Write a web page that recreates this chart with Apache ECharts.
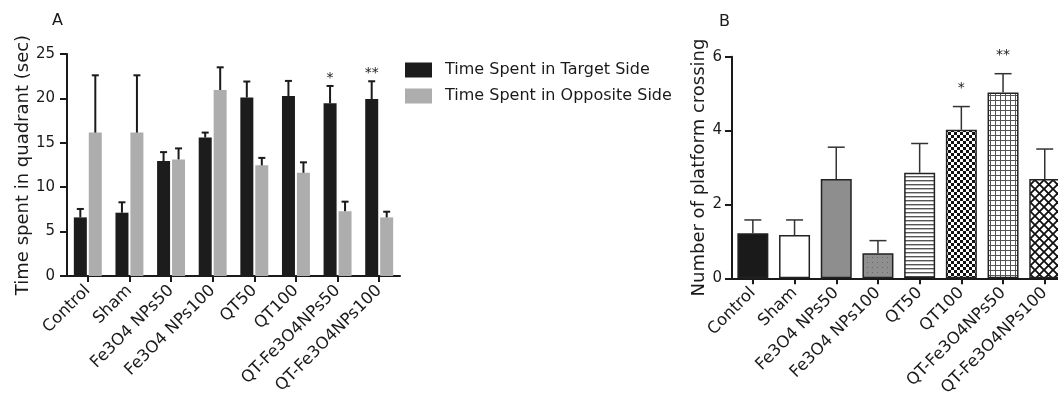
<!DOCTYPE html>
<html>
<head>
<meta charset="utf-8">
<script src="https://cdn.jsdelivr.net/npm/echarts@6/dist/echarts.min.js"></script>
<style>
html, body { margin: 0; padding: 0; background: #fff; }
#chart { width: 1058px; height: 401px; }
</style>
</head>
<body>
<div id="chart"></div>
<script>
var groups = ['Control', 'Sham', 'Fe3O4 NPs50', 'Fe3O4 NPs100', 'QT50', 'QT100', 'QT-Fe3O4NPs50', 'QT-Fe3O4NPs100'];
// panel A
var targetTime = [6.6, 7.13, 12.95, 15.6, 20.1, 20.27, 19.45, 19.93];
var targetErr = [0.95, 1.17, 1.0, 0.55, 1.8, 1.7, 1.95, 2.0];
var oppositeTime = [16.15, 16.15, 13.13, 20.95, 12.46, 11.63, 7.3, 6.6];
var oppositeErr = [6.45, 6.45, 1.24, 2.55, 0.84, 1.17, 1.07, 0.64];
var targetSig = ['', '', '', '', '', '', '*', '**'];
var noSig = ['', '', '', '', '', '', '', ''];
var ticksA = [0, 5, 10, 15, 20, 25];
// panel B
var crossings = [1.22, 1.17, 2.69, 0.68, 2.86, 4.02, 5.03, 2.69];
var crossErr = [0.36, 0.41, 0.86, 0.34, 0.79, 0.63, 0.51, 0.81];
var crossSig = ['', '', '', '', '', '*', '**', ''];
var ticksB = [0, 2, 4, 6];

var FONT = 'DejaVu Sans';
var INK = '#1a1a1a';

// tile patterns for panel B
function tile(w, h, draw) {
	var c = document.createElement('canvas');
	c.width = w;
	c.height = h;
	var ctx = c.getContext('2d');
	draw(ctx);
	return {image: c, repeat: 'repeat'};
}
var dots = tile(5, 5, function(ctx) {
	ctx.fillStyle = '#8f8f8f';
	ctx.fillRect(0, 0, 5, 5);
	ctx.fillStyle = '#666';
	ctx.fillRect(2, 2, 1, 1);
});
var stripes = tile(4, 4, function(ctx) {
	ctx.fillStyle = '#fff';
	ctx.fillRect(0, 0, 4, 4);
	ctx.fillStyle = '#555';
	ctx.fillRect(0, 0, 4, 1.4);
});
var checker = tile(6, 6, function(ctx) {
	ctx.fillStyle = '#fff';
	ctx.fillRect(0, 0, 6, 6);
	ctx.fillStyle = '#111';
	ctx.fillRect(0, 0, 3, 3);
	ctx.fillRect(3, 3, 3, 3);
});
var squares = tile(5, 5, function(ctx) {
	ctx.fillStyle = '#fff';
	ctx.fillRect(0, 0, 5, 5);
	ctx.fillStyle = '#555';
	ctx.fillRect(0, 0, 5, 1);
	ctx.fillRect(0, 0, 1, 5);
});
var diamonds = tile(9, 9, function(ctx) {
	ctx.fillStyle = '#fff';
	ctx.fillRect(0, 0, 9, 9);
	ctx.strokeStyle = '#111';
	ctx.lineWidth = 1.8;
	ctx.beginPath();
	ctx.moveTo(-1, -1); ctx.lineTo(10, 10);
	ctx.moveTo(10, -1); ctx.lineTo(-1, 10);
	ctx.stroke();
});
var fillsB = ['#1a1a1a', '#ffffff', '#8e8e8e', dots, stripes, checker, squares, diamonds];

function errSeries(xi, yi, vals, errs, sig, dx, cap, lw, color, starGap) {
	return {
		type: 'custom',
		xAxisIndex: xi,
		yAxisIndex: yi,
		z: 5,
		silent: true,
		data: vals.map(function(v, i) { return [i, v, v + errs[i]]; }),
		renderItem: function(params, api) {
			var base = api.coord([api.value(0), api.value(1)]);
			var top = api.coord([api.value(0), api.value(2)]);
			var x = base[0] + dx;
			var kids = [
				{type: 'line', shape: {x1: x, y1: base[1], x2: x, y2: top[1]}, style: {stroke: color, lineWidth: lw}},
				{type: 'line', shape: {x1: x - cap / 2, y1: top[1], x2: x + cap / 2, y2: top[1]}, style: {stroke: color, lineWidth: lw}}
			];
			var s = sig[params.dataIndex];
			if (s) {
				kids.push({type: 'text', style: {text: s, x: x, y: top[1] - starGap, align: 'center', verticalAlign: 'bottom', font: '14px "' + FONT + '"', fill: INK}});
			}
			return {type: 'group', children: kids};
		}
	};
}

function catAxis(gi) {
	return {
		type: 'category',
		gridIndex: gi,
		data: groups,
		axisLine: {show: true, lineStyle: {color: INK, width: 2}},
		axisTick: {show: true, alignWithLabel: true, length: 6, lineStyle: {color: INK, width: 2}},
		axisLabel: {rotate: 45, margin: 12, fontFamily: FONT, fontSize: 16.5, color: INK, interval: 0}
	};
}

function valAxis(gi, ticks, name, gap, margin) {
	return {
		type: 'value',
		gridIndex: gi,
		min: ticks[0],
		max: ticks[ticks.length - 1],
		interval: ticks[1] - ticks[0],
		name: name,
		nameLocation: 'middle',
		nameGap: gap,
		nameTextStyle: {fontFamily: FONT, fontSize: 18, color: INK},
		splitLine: {show: false},
		axisLine: {show: true, lineStyle: {color: INK, width: 2}},
		axisTick: {show: true, length: 7, lineStyle: {color: INK, width: 2}},
		axisLabel: {margin: margin, fontFamily: FONT, fontSize: 15, color: INK}
	};
}

var chart = echarts.init(document.getElementById('chart'), null, {renderer: 'canvas'});
chart.setOption({
	animation: false,
	backgroundColor: '#fff',
	grid: [
		{left: 67, top: 54, width: 333, height: 222, outerBoundsMode: 'none'},
		{left: 732, top: 56.7, width: 333.6, height: 221.6, outerBoundsMode: 'none'}
	],
	legend: {
		data: ['Time Spent in Target Side', 'Time Spent in Opposite Side'],
		orient: 'vertical',
		left: 405,
		top: 62,
		padding: 0,
		itemWidth: 27,
		itemHeight: 15,
		itemGap: 10,
		icon: 'rect',
		textStyle: {fontFamily: FONT, fontSize: 16, color: INK, padding: [0, 0, 0, 8]}
	},
	graphic: [
		{type: 'text', left: 52, top: 13, style: {text: 'A', font: '16px "' + FONT + '"', fill: INK}},
		{type: 'text', left: 719, top: 14, style: {text: 'B', font: '16px "' + FONT + '"', fill: INK}}
	],
	xAxis: [catAxis(0), catAxis(1)],
	yAxis: [
		valAxis(0, ticksA, 'Time spent in quadrant (sec)', 32, 12),
		valAxis(1, ticksB, 'Number of platform crossing', 22, 10)
	],
	series: [
		{
			name: 'Time Spent in Target Side',
			type: 'bar',
			xAxisIndex: 0,
			yAxisIndex: 0,
			barWidth: 13,
			barGap: '15%',
			itemStyle: {color: '#1c1c1c'},
			data: targetTime
		},
		{
			name: 'Time Spent in Opposite Side',
			type: 'bar',
			xAxisIndex: 0,
			yAxisIndex: 0,
			barWidth: 13,
			barGap: '15%',
			itemStyle: {color: '#adadad'},
			data: oppositeTime
		},
		errSeries(0, 0, targetTime, targetErr, targetSig, -7.5, 7, 2, INK, 1),
		errSeries(0, 0, oppositeTime, oppositeErr, noSig, 7.5, 7, 2, INK, 1),
		{
			name: 'Platform crossing',
			type: 'bar',
			xAxisIndex: 1,
			yAxisIndex: 1,
			barWidth: 31,
			data: crossings.map(function(v, i) {
				return {value: v, itemStyle: {color: fillsB[i], borderColor: '#222', borderWidth: 1.5}};
			})
		},
		errSeries(1, 1, crossings, crossErr, crossSig, 0, 17, 1.5, '#333', 11)
	]
});
</script>
</body>
</html>
